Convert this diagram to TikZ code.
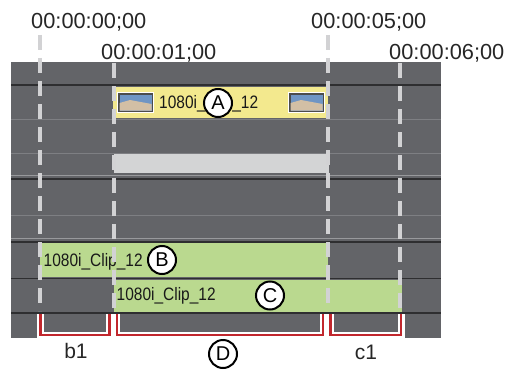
\documentclass[tikz,border=0pt]{standalone}
\usepackage{fontspec}
\setmainfont{Liberation Sans}
\newfontfamily\clipfont[FakeStretch=0.86]{Liberation Sans}
\definecolor{panel}{HTML}{636468}
\definecolor{darkline}{HTML}{2E2E30}
\definecolor{thinline}{HTML}{7E7F83}
\definecolor{clipyellow}{HTML}{F3E98E}
\definecolor{clipgreen}{HTML}{BAD98F}
\definecolor{bargray}{HTML}{D3D4D5}
\definecolor{dashgray}{HTML}{D2D2D4}
\definecolor{bracketred}{HTML}{C1272D}
\definecolor{thumbsky}{HTML}{6F95C4}
\definecolor{thumbsand}{HTML}{D2BFA5}
\tikzset{
  tclabel/.style={inner sep=0pt, anchor=base west, font=\fontsize{21.8}{24}\selectfont, text=black!85},
  cliptext/.style={inner sep=0pt, anchor=base west, font=\clipfont\fontsize{18}{20}\selectfont, text=black!90},
  circlabel/.style={circle, draw=black, line width=2pt, fill=white, minimum size=28pt, inner sep=0pt, font=\fontsize{20}{22}\selectfont},
  dashline/.style={draw=dashgray, line width=4pt, dash pattern=on 15pt off 8pt},
  bracketwhite/.style={draw=white, line width=7pt},
  bracketline/.style={draw=bracketred, line width=2.3pt},
  thinrow/.style={draw=thinline, line width=1pt},
  darkrow/.style={draw=darkline, line width=2pt},
  plainlabel/.style={inner sep=0pt, anchor=base, font=\fontsize{21}{24}\selectfont, text=black!85}
}
\begin{document}
\begin{tikzpicture}[x=1pt,y=-1pt]
\useasboundingbox (0,0) rectangle (508,369);
% panel
\fill[panel] (11,62) rectangle (441,338);
\draw[darkrow] (11,85) -- (441,85);
\draw[thinrow] (11,119) -- (441,119);
\draw[thinrow] (11,153) -- (441,153);
\draw[draw=thinline!80!white, line width=1pt] (11,175.5) -- (441,175.5);
\draw[darkrow] (11,179) -- (441,179);
\draw[thinrow] (11,215) -- (441,215);
\draw[draw=thinline!80!white, line width=1pt] (11,238) -- (441,238);
\draw[darkrow] (11,241.5) -- (441,241.5);
\draw[draw=darkline, line width=1.5pt] (11,278.5) -- (441,278.5);
\draw[draw=darkline, line width=1.5pt] (11,313) -- (441,313);
% clips
\fill[clipyellow] (113,87) rectangle (328,118);
\fill[bargray] (114,154) rectangle (329,173);
\fill[clipgreen] (40,243.3) rectangle (328.3,276.8);
\fill[clipgreen] (114,279.5) rectangle (401.7,311.8);
% thumbnails
\foreach \tx in {118,289} {
  \fill[black!70] (\tx,93) rectangle ++(35,19);
  \fill[thumbsky] (\tx+1.5,94.5) rectangle ++(32,16);
  \fill[thumbsand] (\tx+1.5,110.5) -- (\tx+1.5,103) -- (\tx+12,100) -- (\tx+33.5,104) -- (\tx+33.5,110.5) -- cycle;
  \draw[white, line width=0.8pt] (\tx-0.4,92.6) rectangle ++(35.8,19.8);
}
% clip texts
\node[cliptext] (tA) at (159,108.3) {1080i\_Clip\_12};
\node[cliptext] (tB) at (43.5,266.7) {1080i\_Clip\_12};
\node[cliptext] (tC) at (116.5,300.7) {1080i\_Clip\_12};
% circle labels
\node[circlabel] (A) at (218,103) {A};
\node[circlabel] (B) at (162,260) {B};
\node[circlabel] (C) at (270,295.5) {C};
% timecodes
\node[tclabel] (tc0) at (31,28.3) {00:00:00;00};
\node[tclabel] (tc1) at (101,59.3) {00:00:01;00};
\node[tclabel] (tc5) at (311,28.3) {00:00:05;00};
\node[tclabel] (tc6) at (389,59.3) {00:00:06;00};
% dashed markers
\coordinate (m0t) at (40,35);   \coordinate (m0b) at (40,311);
\coordinate (m1t) at (114,63);  \coordinate (m1b) at (114,311);
\coordinate (m5t) at (327.5,35);\coordinate (m5b) at (327.5,311);
\coordinate (m6t) at (400,63);  \coordinate (m6b) at (400,311);
\draw[dashline] (m0t) -- (m0b);
\draw[dashline] (m1t) -- (m1b);
\draw[dashline] (m5t) -- (m5b);
\draw[dashline] (m6t) -- (m6b);
% brackets
\foreach \l/\r in {40.5/109.5, 116.7/323, 330.5/401} {
  \draw[bracketwhite] (\l,314) -- (\l,335) -- (\r,335) -- (\r,314);
  \draw[bracketline] (\l,314) -- (\l,335) -- (\r,335) -- (\r,314);
}
% bracket labels
\node[plainlabel] (b1) at (76,358.5) {b1};
\node[circlabel] (D) at (223,354) {D};
\node[plainlabel] (c1) at (366,359.5) {c1};
\end{tikzpicture}
\end{document}
